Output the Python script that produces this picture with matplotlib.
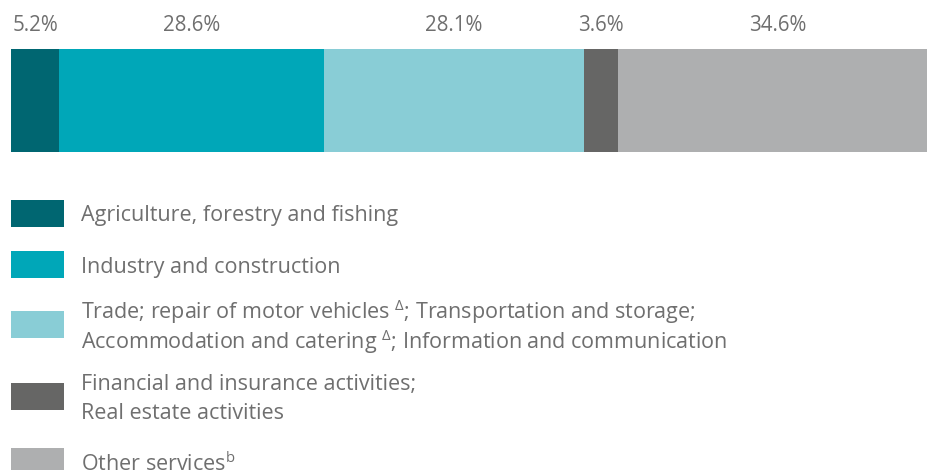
import numpy as np
import matplotlib
matplotlib.use("Agg")
import matplotlib.pyplot as plt
from matplotlib.patches import Rectangle

# Data ------------------------------------------------------------
sectors = [
    "Agriculture, forestry and fishing",
    "Industry and construction",
    "Trade; repair of motor vehicles $^{\\Delta}$; Transportation and storage;\n"
    "Accommodation and catering $^{\\Delta}$; Information and communication",
    "Financial and insurance activities;\nReal estate activities",
    "Other services$^{\\mathrm{b}}$",
]
shares = [5.2, 28.6, 28.1, 3.6, 34.6]
share_labels = ["5.2%", "28.6%", "28.1%", "3.6%", "34.6%"]
colors = ["#006671", "#00a7b8", "#89cdd6", "#666665", "#aeafb0"]

TEXT = "#6f6f6f"
FONT = "Open Sans"
plt.rcParams["font.family"] = [FONT, "DejaVu Sans"]
plt.rcParams["mathtext.fontset"] = "custom"
plt.rcParams["mathtext.rm"] = FONT
plt.rcParams["mathtext.it"] = FONT
plt.rcParams["mathtext.default"] = "regular"

W, H = 928, 470
fig = plt.figure(figsize=(W / 100, H / 100), dpi=100)
fig.patch.set_facecolor("white")

# Stacked bar (runs a bit past the right edge of the picture) -----
ax = fig.add_axes([11 / W, 1 - 152 / H, 927 / W, 103 / H])
left = 0
for val, txt, col in zip(shares, share_labels, colors):
    ax.barh(0, val, left=left, height=1, color=col, linewidth=0)
    ax.text(left + val / 2, 1.23, txt, transform=ax.get_xaxis_transform(),
            ha="center", va="center", fontsize=14.8, color=TEXT)
    left += val

ax.set_xlim(0, sum(shares))
ax.set_ylim(-0.5, 0.5)
ax.axis("off")

# Legend, laid out in pixel units ---------------------------------
lax = fig.add_axes([0, 0, 1, 1], zorder=-1)
lax.set_xlim(0, W)
lax.set_ylim(H, 0)
lax.axis("off")

key_top = [200, 251, 311, 383, 448]
line_sp = [1.2, 1.2, 1.065, 1.48, 1.2]
for lab, col, top, ls in zip(sectors, colors, key_top, line_sp):
    lax.add_patch(Rectangle((11, top), 53, 27, color=col, linewidth=0))
    lax.text(81, top + 16, lab, ha="left", va="center", fontsize=15.5,
             color=TEXT, linespacing=ls)

fig.savefig("out.png", dpi=100)
